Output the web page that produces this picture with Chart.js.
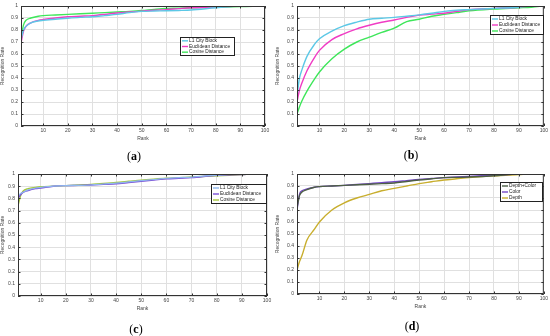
<!DOCTYPE html>
<html>
<head>
<meta charset="utf-8">
<script src="https://cdn.jsdelivr.net/npm/chart.js@4.4.0/dist/chart.umd.min.js"></script>
<style>
  body { margin: 0; background: #fff; }
  #fig { position: relative; width: 550px; height: 336px; overflow: hidden; }
  canvas { position: absolute; }
  .cap { position: absolute; font-family: "Liberation Serif", "DejaVu Serif", serif; font-size: 12px; width: 40px; text-align: center; }
  .cap b { font-weight: bold; }
</style>
</head>
<body>
<div id="fig">
  <canvas id="chartA" width="275" height="168" style="left:0;top:0"></canvas>
  <canvas id="chartB" width="275" height="168" style="left:275px;top:0"></canvas>
  <canvas id="chartC" width="275" height="168" style="left:0;top:168px"></canvas>
  <canvas id="chartD" width="275" height="168" style="left:275px;top:168px"></canvas>
  <div class="cap" style="left:114px;top:149px">(<b>a</b>)</div>
  <div class="cap" style="left:391px;top:148px">(<b>b</b>)</div>
  <div class="cap" style="left:116px;top:322px">(<b>c</b>)</div>
  <div class="cap" style="left:392px;top:319px">(<b>d</b>)</div>
</div>
<script>
/* datos */
var rank = [1, 2, 3, 5, 8, 10, 15, 20, 25, 30, 35, 40, 45, 50, 55, 60, 65, 70, 80, 90, 95, 100];
var xTicks = [10, 20, 30, 40, 50, 60, 70, 80, 90, 100];
var yTicks = [0, 0.1, 0.2, 0.3, 0.4, 0.5, 0.6, 0.7, 0.8, 0.9, 1];

// (a)
var aL1 = [0.72, 0.80, 0.83, 0.86, 0.875, 0.88, 0.89, 0.898, 0.905, 0.91, 0.92, 0.93, 0.945, 0.955, 0.958, 0.96, 0.963, 0.967, 0.985, 1.0, 1.0, 1.0];
var aEuc = [0.69, 0.79, 0.83, 0.86, 0.88, 0.887, 0.90, 0.91, 0.915, 0.92, 0.93, 0.942, 0.95, 0.957, 0.965, 0.97, 0.978, 0.985, 0.99, 1.0, 1.0, 1.0];
var aCos = [0.72, 0.84, 0.88, 0.90, 0.915, 0.92, 0.925, 0.93, 0.935, 0.94, 0.945, 0.95, 0.955, 0.962, 0.972, 0.98, 0.982, 0.985, 0.99, 0.995, 0.998, 1.0];

// (b)
var bL1 = [0.25, 0.40, 0.47, 0.58, 0.68, 0.727, 0.79, 0.836, 0.866, 0.89, 0.898, 0.905, 0.915, 0.926, 0.94, 0.955, 0.965, 0.97, 0.98, 0.99, 1.0, 1.0];
var bEuc = [0.20, 0.30, 0.36, 0.46, 0.57, 0.63, 0.72, 0.77, 0.81, 0.84, 0.865, 0.883, 0.905, 0.924, 0.932, 0.94, 0.955, 0.97, 0.98, 0.99, 1.0, 1.0];
var bCos = [0.10, 0.16, 0.21, 0.29, 0.39, 0.45, 0.56, 0.64, 0.70, 0.74, 0.78, 0.815, 0.87, 0.89, 0.915, 0.93, 0.945, 0.96, 0.975, 0.985, 0.99, 1.0];

// (c)
var cL1 = [0.82, 0.84, 0.85, 0.87, 0.885, 0.89, 0.90, 0.905, 0.907, 0.91, 0.918, 0.925, 0.935, 0.945, 0.955, 0.965, 0.97, 0.975, 0.99, 1.0, 1.0, 1.0];
var cEuc = [0.80, 0.83, 0.85, 0.865, 0.88, 0.885, 0.90, 0.905, 0.907, 0.91, 0.915, 0.92, 0.93, 0.94, 0.95, 0.96, 0.965, 0.97, 0.99, 0.995, 1.0, 1.0];
var cCos = [0.74, 0.82, 0.86, 0.88, 0.89, 0.895, 0.90, 0.905, 0.91, 0.915, 0.922, 0.93, 0.94, 0.95, 0.958, 0.965, 0.97, 0.975, 0.985, 0.995, 1.0, 1.0];

// (d)
var dBoth = [0.72, 0.82, 0.85, 0.87, 0.89, 0.895, 0.90, 0.905, 0.91, 0.915, 0.92, 0.925, 0.938, 0.95, 0.96, 0.97, 0.972, 0.975, 0.985, 1.0, 1.0, 1.0];
var dColor = [0.70, 0.83, 0.86, 0.875, 0.89, 0.895, 0.90, 0.905, 0.912, 0.92, 0.928, 0.935, 0.945, 0.955, 0.962, 0.97, 0.975, 0.98, 0.99, 1.0, 1.0, 1.0];
var dDepth = [0.20, 0.27, 0.32, 0.45, 0.54, 0.60, 0.70, 0.76, 0.80, 0.83, 0.86, 0.88, 0.90, 0.92, 0.935, 0.95, 0.96, 0.97, 0.985, 0.995, 1.0, 1.0];

function pts(vals) {
    return rank.map(function (r, i) { return { x: r, y: vals[i] }; });
}

function serie(label, vals, color, width) {
    return {
        label: label,
        data: pts(vals),
        borderColor: color,
        backgroundColor: color,
        borderWidth: width || 1.4,
        pointRadius: 0,
        cubicInterpolationMode: 'monotone',
        fill: false
    };
}

/* caja tipo matlab + leyenda */
var boxPlugin = {
    id: 'matlabBox',
    afterDraw: function (chart, args, opts) {
        var ctx = chart.ctx, a = chart.chartArea;
        var xs = chart.scales.x, ys = chart.scales.y;
        ctx.save();
        ctx.strokeStyle = '#333';
        ctx.lineWidth = 1;
        ctx.strokeRect(a.left + 0.5, a.top + 0.5, a.right - a.left - 1, a.bottom - a.top - 1);
        // ticks hacia adentro
        ctx.beginPath();
        xTicks.forEach(function (v) {
            var px = Math.round(xs.getPixelForValue(v)) + 0.5;
            ctx.moveTo(px, a.bottom); ctx.lineTo(px, a.bottom - 2.5);
            ctx.moveTo(px, a.top); ctx.lineTo(px, a.top + 2.5);
        });
        yTicks.forEach(function (v) {
            var py = Math.round(ys.getPixelForValue(v)) + 0.5;
            ctx.moveTo(a.left, py); ctx.lineTo(a.left + 2.5, py);
            ctx.moveTo(a.right, py); ctx.lineTo(a.right - 2.5, py);
        });
        ctx.stroke();

        // leyenda
        var L = opts.box;
        if (L) {
            ctx.fillStyle = '#fff';
            ctx.fillRect(L.x, L.y, L.w, L.h);
            ctx.strokeStyle = '#222';
            ctx.strokeRect(L.x + 0.5, L.y + 0.5, L.w - 1, L.h - 1);
            ctx.font = '4.8px "Liberation Sans", Arial, sans-serif';
            ctx.textBaseline = 'middle';
            var rowH = (L.h - 2) / chart.data.datasets.length;
            chart.data.datasets.forEach(function (ds, i) {
                var cy = L.y + 1 + rowH * (i + 0.5);
                ctx.strokeStyle = ds.borderColor;
                ctx.lineWidth = 1.4;
                ctx.beginPath();
                ctx.moveTo(L.x + 2, cy); ctx.lineTo(L.x + 8, cy);
                ctx.stroke();
                ctx.fillStyle = '#222';
                ctx.fillText(ds.label, L.x + 9, cy);
            });
        }
        ctx.restore();
    }
};

function makeChart(id, datasets, pad, yWidth, legendBox) {
    var ctx = document.getElementById(id).getContext('2d');
    var tickFont = { family: '"Liberation Sans", Arial, sans-serif', size: 5 };
    return new Chart(ctx, {
        type: 'line',
        data: { datasets: datasets },
        options: {
            responsive: false,
            animation: false,
            layout: { padding: pad },
            plugins: {
                legend: { display: false },
                tooltip: { enabled: false },
                matlabBox: { box: legendBox }
            },
            scales: {
                x: {
                    type: 'linear', min: 1, max: 100,
                    afterBuildTicks: function (s) { s.ticks = xTicks.map(function (v) { return { value: v }; }); },
                    afterFit: function (s) { s.height = 16; },
                    ticks: { font: tickFont, color: '#444', padding: 2, maxRotation: 0, autoSkip: false },
                    grid: { color: '#e0e0e0', drawTicks: false },
                    border: { display: false },
                    title: { display: true, text: 'Rank', font: tickFont, color: '#444', padding: { top: 1, bottom: 0 } }
                },
                y: {
                    type: 'linear', min: 0, max: 1,
                    afterBuildTicks: function (s) { s.ticks = yTicks.map(function (v) { return { value: v }; }); },
                    afterFit: function (s) { s.width = yWidth; },
                    ticks: {
                        font: tickFont, color: '#444', padding: 3, autoSkip: false,
                        callback: function (v) { return String(Number(v.toFixed(1))); }
                    },
                    grid: { color: '#e0e0e0', drawTicks: false },
                    border: { display: false },
                    title: { display: true, text: 'Recognition Rate', font: tickFont, color: '#444', padding: 0 }
                }
            }
        },
        plugins: [boxPlugin]
    });
}

makeChart('chartA', [
    serie('L1 City Block', aL1, '#5cc8e6'),
    serie('Euclidean Distance', aEuc, '#f03cc4'),
    serie('Cosine Distance', aCos, '#3ee65a')
], { left: 0, right: 10, top: 5, bottom: 26 }, 21, { x: 180, y: 37, w: 55, h: 19 });

makeChart('chartB', [
    serie('L1 City Block', bL1, '#5cc8e6'),
    serie('Euclidean Distance', bEuc, '#f03cc4'),
    serie('Cosine Distance', bCos, '#3ee65a')
], { left: 0, right: 6, top: 4, bottom: 26 }, 22, { x: 215, y: 15, w: 54, h: 20 });

makeChart('chartC', [
    serie('L1 City Block', cL1, '#8fb8ee', 1.2),
    serie('Euclidean Distance', cEuc, '#7a4fd6'),
    serie('Cosine Distance', cCos, '#a6c83a')
], { left: 0, right: 8, top: 6, bottom: 24 }, 18, { x: 211, y: 16, w: 56, h: 20 });

makeChart('chartD', [
    serie('Depth+Color', dBoth, '#4d5f45'),
    serie('Color', dColor, '#7548c8'),
    serie('Depth', dDepth, '#c8ae2e')
], { left: 0, right: 6, top: 4, bottom: 26 }, 22, { x: 225, y: 14, w: 43, h: 20 });
</script>
</body>
</html>
